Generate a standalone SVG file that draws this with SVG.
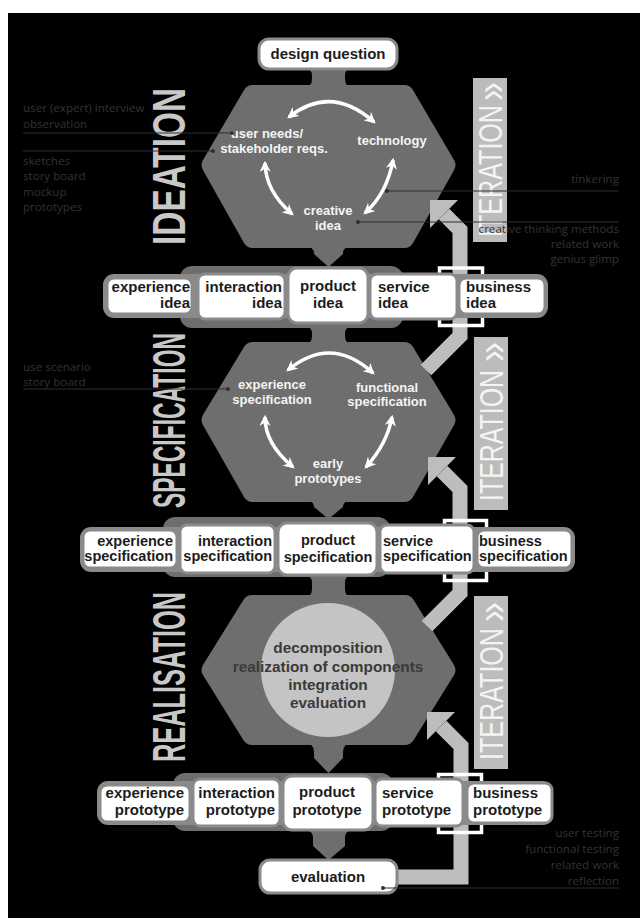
<svg xmlns="http://www.w3.org/2000/svg" width="640" height="918" viewBox="0 0 640 918">
<defs>
<style>
.hex{fill:#6e6e6e;stroke:#6e6e6e;stroke-width:20;stroke-linejoin:round}
.dk{fill:#6e6e6e}
.band{fill:#8a8a8a}
.box{fill:#fff;stroke:#8a8a8a;stroke-width:3}
.bt{font-family:"Liberation Sans",Arial,sans-serif;font-weight:bold;font-size:15px;fill:#1c1c1c}
.bs{font-size:14.5px}
.ht{font-family:"Liberation Sans",Arial,sans-serif;font-weight:bold;font-size:13px;fill:#f4f4f4;text-anchor:middle}
.ct{font-family:"Liberation Sans",Arial,sans-serif;font-weight:bold;font-size:15.4px;fill:#3a3a3a;text-anchor:middle}
.vl{font-family:"Liberation Sans",Arial,sans-serif;font-weight:bold;font-size:46px;fill:#c8c8c8}
.it{font-family:"Liberation Sans",Arial,sans-serif;font-size:33px;fill:#f4f4f4}
.ch{font-family:"Liberation Sans",Arial,sans-serif;font-size:42px;fill:#f4f4f4}
.an{font-family:"Open Sans","Liberation Sans",sans-serif;font-size:11.6px;fill:#333}
.al{stroke:#2e2e2e;stroke-width:1.1;fill:none}
.ad{fill:#2e2e2e}
.ar{fill:none;stroke:#fff;stroke-width:3.5;marker-start:url(#ah);marker-end:url(#ah)}
.ig{fill:none;stroke:#bdbdbd;stroke-width:15;stroke-linejoin:miter}
.ih{fill:#bdbdbd}
.bar{fill:#bcbcbc}
.brk{fill:none;stroke:#fff;stroke-width:3.5}
</style>
<marker id="ah" viewBox="0 0 10 10" refX="8" refY="5" markerWidth="3.2" markerHeight="3.2" orient="auto-start-reverse">
<path d="M0,0 L10,5 L0,10 L3,5 z" fill="#fff"/>
</marker>
</defs>
<rect x="0" y="0" width="640" height="918" fill="#fff"/>
<rect x="8" y="13" width="632" height="905" fill="#000"/>

<!-- vertical phase labels -->
<g id="phase-labels">
<text class="vl" transform="translate(185,245) rotate(-90)" textLength="157" lengthAdjust="spacingAndGlyphs">IDEATION</text>
<text class="vl" transform="translate(185,508) rotate(-90)" textLength="175" lengthAdjust="spacingAndGlyphs">SPECIFICATION</text>
<text class="vl" transform="translate(185,762) rotate(-90)" textLength="170" lengthAdjust="spacingAndGlyphs">REALISATION</text>
</g>

<!-- hexagons and connectors of the central column -->
<g id="ideation">
<path class="dk" d="M304,68 Q312,68 312,76 L312,79 Q312,87 304,87 L353,87 Q345,87 345,79 L345,76 Q345,68 353,68 Z"/>
<polygon class="hex" points="211.6,165 252.7,95 404.3,95 445.4,165 404.3,238 252.7,238"/>
<path class="dk" d="M304,246 Q314,246 314,254 L328.5,267 L343,254 Q343,246 353,246 Z"/>
<path class="ar" d="M289,117 Q331,84 374,122"/>
<path class="ar" d="M265,163 Q265.5,191 292,214"/>
<path class="ar" d="M393,160 Q387,193.5 365,213"/>
<text class="ht" x="267" y="138">user needs/</text>
<text class="ht" x="274" y="153">stakeholder reqs.</text>
<text class="ht" x="392" y="145">technology</text>
<text class="ht" x="328" y="215">creative</text>
<text class="ht" x="328" y="230">idea</text>
</g>

<g id="specification">
<path class="dk" d="M304,326 Q312,326 312,334 L312,336 Q312,344 304,344 L353,344 Q345,344 345,336 L345,334 Q345,326 353,326 Z"/>
<polygon class="hex" points="211.6,420 252.7,352 404.3,352 445.4,420 404.3,492 252.7,492"/>
<path class="dk" d="M304,500 Q314,500 314,507 L328.5,519 L343,507 Q343,500 353,500 Z"/>
<path class="ar" d="M288,370 Q331,334.5 373,373"/>
<path class="ar" d="M265,417 Q265,444 293,467"/>
<path class="ar" d="M392,417 Q387,444 366,467"/>
<text class="ht" x="272" y="389">experience</text>
<text class="ht" x="272" y="404">specification</text>
<text class="ht" x="387" y="392">functional</text>
<text class="ht" x="387" y="406">specification</text>
<text class="ht" x="328" y="468">early</text>
<text class="ht" x="328" y="483">prototypes</text>
</g>

<g id="realisation">
<path class="dk" d="M304,575 Q312,575 312,583 L312,589 Q312,597 304,597 L353,597 Q345,597 345,589 L345,583 Q345,575 353,575 Z"/>
<polygon class="hex" points="211.6,670 252,605 405,605 445.4,670 405,735 252,735"/>
<path class="dk" d="M304,743 Q314,743 314,752 L314,758 L328.5,773 L343,758 L343,752 Q343,743 353,743 Z"/>
<circle cx="328" cy="670" r="67" fill="#c4c4c4"/>
<text class="ct" x="328" y="653">decomposition</text>
<text class="ct" x="328" y="672">realization of components</text>
<text class="ct" x="328" y="690">integration</text>
<text class="ct" x="328" y="708">evaluation</text>
</g>

<!-- iteration feedback arrows -->
<g id="connectors">
<polyline class="ig" points="444,214 460,230 460,336 426,370"/>
<polygon class="ih" points="430,200 458,200 430,228"/>
<polyline class="ig" points="442,471 460,489 460,593 427,626"/>
<polygon class="ih" points="428,457 456,457 428,485"/>
<polyline class="ig" points="441,726 461,746 461,877 398,877"/>
<polygon class="ih" points="427,712 455,712 427,740"/>
<rect class="brk" x="439.5" y="268" width="43" height="57.5"/>
<rect class="brk" x="444.5" y="520.5" width="42" height="60"/>
<rect class="brk" x="438.5" y="774.5" width="43" height="58"/>
</g>

<g id="design-question">
<rect class="box" x="259" y="39" width="138" height="30" rx="10"/>
<text class="bt" x="328" y="59" text-anchor="middle">design question</text>
</g>

<!-- row 1: ideas -->
<g id="row-idea">
<rect class="dk" x="180" y="266" width="223" height="62" rx="12"/>
<rect class="band" x="103" y="274" width="445" height="44" rx="11"/>
<g id="experience-idea"><rect class="box" x="107" y="278" width="85" height="36" rx="7"/>
<text class="bt" text-anchor="end"><tspan x="190" y="292">experience</tspan><tspan x="190" y="308">idea</tspan></text></g>
<g id="interaction-idea"><rect class="box" x="198" y="274" width="87" height="45" rx="7"/>
<text class="bt" text-anchor="end"><tspan x="282" y="292">interaction</tspan><tspan x="282" y="308">idea</tspan></text></g>
<g id="service-idea"><rect class="box" x="370" y="274" width="87" height="45" rx="7"/>
<text class="bt"><tspan x="378" y="292">service</tspan><tspan x="378" y="308">idea</tspan></text></g>
<g id="business-idea"><rect class="box" x="459" y="278" width="86" height="36" rx="7"/>
<text class="bt"><tspan x="466" y="292">business</tspan><tspan x="466" y="308">idea</tspan></text></g>
<g id="product-idea"><rect class="box" x="288" y="268" width="80" height="55" rx="9"/>
<text class="bt" text-anchor="middle"><tspan x="328" y="291">product</tspan><tspan x="328" y="308">idea</tspan></text></g>
</g>

<!-- row 2: specifications -->
<g id="row-specification">
<rect class="dk" x="163" y="517" width="227" height="60" rx="12"/>
<rect class="band" x="80" y="527" width="495" height="45" rx="11"/>
<g id="experience-spec"><rect class="box" x="83" y="530" width="94" height="38" rx="7"/>
<text class="bt bs" text-anchor="end"><tspan x="173" y="546">experience</tspan><tspan x="173" y="561">specification</tspan></text></g>
<g id="interaction-spec"><rect class="box" x="180" y="525" width="95" height="48" rx="7"/>
<text class="bt bs" text-anchor="end"><tspan x="272" y="546">interaction</tspan><tspan x="272" y="561">specification</tspan></text></g>
<g id="service-spec"><rect class="box" x="380" y="525" width="94" height="48" rx="7"/>
<text class="bt bs"><tspan x="383" y="546">service</tspan><tspan x="383" y="561">specification</tspan></text></g>
<g id="business-spec"><rect class="box" x="477" y="530" width="95" height="38" rx="7"/>
<text class="bt bs"><tspan x="479" y="546">business</tspan><tspan x="479" y="561">specification</tspan></text></g>
<g id="product-spec"><rect class="box" x="278" y="523" width="99" height="52" rx="9"/>
<text class="bt bs" text-anchor="middle"><tspan x="328" y="545">product</tspan><tspan x="328" y="562">specification</tspan></text></g>
</g>

<!-- row 3: prototypes -->
<g id="row-prototype">
<rect class="dk" x="173" y="773" width="220" height="58" rx="12"/>
<path class="dk" d="M300,829 Q313,829 313,838 L313,846 L328.5,860 L345,846 L345,838 Q345,829 358,829 Z"/>
<rect class="band" x="97" y="781" width="456" height="44" rx="11"/>
<g id="experience-proto"><rect class="box" x="100" y="785" width="90" height="37" rx="7"/>
<text class="bt" text-anchor="end"><tspan x="184" y="798">experience</tspan><tspan x="184" y="815">prototype</tspan></text></g>
<g id="interaction-proto"><rect class="box" x="193" y="779" width="87" height="47" rx="7"/>
<text class="bt" text-anchor="end"><tspan x="275" y="798">interaction</tspan><tspan x="275" y="815">prototype</tspan></text></g>
<g id="service-proto"><rect class="box" x="375" y="779" width="88" height="47" rx="7"/>
<text class="bt"><tspan x="382" y="798">service</tspan><tspan x="382" y="815">prototype</tspan></text></g>
<g id="business-proto"><rect class="box" x="467" y="783" width="85" height="40" rx="7"/>
<text class="bt"><tspan x="473" y="798">business</tspan><tspan x="473" y="815">prototype</tspan></text></g>
<g id="product-proto"><rect class="box" x="283" y="776" width="90" height="54" rx="9"/>
<text class="bt" text-anchor="middle"><tspan x="327" y="797">product</tspan><tspan x="327" y="815">prototype</tspan></text></g>
</g>

<g id="evaluation">
<rect class="box" x="260" y="860" width="137" height="33" rx="10"/>
<text class="bt" x="328" y="882" text-anchor="middle">evaluation</text>
</g>

<!-- iteration bars -->
<g id="iteration-bars">
<rect class="bar" x="473" y="78" width="34" height="164"/>
<text class="it" transform="translate(502,237) rotate(-90)" textLength="132" lengthAdjust="spacingAndGlyphs">ITERATION</text>
<text class="ch" transform="translate(505,101) rotate(-90)" textLength="19" lengthAdjust="spacingAndGlyphs">»</text>
<rect class="bar" x="474" y="337" width="34" height="173"/>
<text class="it" transform="translate(503,501) rotate(-90)" textLength="131" lengthAdjust="spacingAndGlyphs">ITERATION</text>
<text class="ch" transform="translate(506,362) rotate(-90)" textLength="20" lengthAdjust="spacingAndGlyphs">»</text>
<rect class="bar" x="474" y="596" width="34" height="173"/>
<text class="it" transform="translate(503,760) rotate(-90)" textLength="132" lengthAdjust="spacingAndGlyphs">ITERATION</text>
<text class="ch" transform="translate(506,622) rotate(-90)" textLength="20" lengthAdjust="spacingAndGlyphs">»</text>
</g>

<!-- annotations -->
<g id="annotations">
<text class="an"><tspan x="23" y="112">user (expert) interview</tspan><tspan x="23" y="128">observation</tspan></text>
<line class="al" x1="23" y1="133" x2="232" y2="133"/><circle class="ad" cx="232" cy="133" r="2"/>
<line class="al" x1="23" y1="151" x2="213" y2="151"/><circle class="ad" cx="213" cy="151" r="2"/>
<text class="an"><tspan x="23" y="165">sketches</tspan><tspan x="23" y="180">story board</tspan><tspan x="23" y="196">mockup</tspan><tspan x="23" y="211">prototypes</tspan></text>
<text class="an" text-anchor="end" x="619" y="183">tinkering</text>
<line class="al" x1="619" y1="191" x2="387" y2="191"/><circle class="ad" cx="387" cy="191" r="2"/>
<line class="al" x1="619" y1="222" x2="358" y2="222"/><circle class="ad" cx="358" cy="222" r="2"/>
<text class="an" text-anchor="end"><tspan x="619" y="233">creative thinking methods</tspan><tspan x="619" y="248">related work</tspan><tspan x="619" y="263">genius glimp</tspan></text>
<text class="an"><tspan x="23" y="371">use scenario</tspan><tspan x="23" y="386">story board</tspan></text>
<line class="al" x1="23" y1="389" x2="228" y2="389"/><circle class="ad" cx="228" cy="389" r="2"/>
<text class="an" text-anchor="end"><tspan x="619" y="837">user testing</tspan><tspan x="619" y="853">functional testing</tspan><tspan x="619" y="869">related work</tspan><tspan x="619" y="885">reflection</tspan></text>
<line class="al" x1="619" y1="888" x2="383" y2="888"/><circle class="ad" cx="383" cy="888" r="2"/>
</g>
</svg>
